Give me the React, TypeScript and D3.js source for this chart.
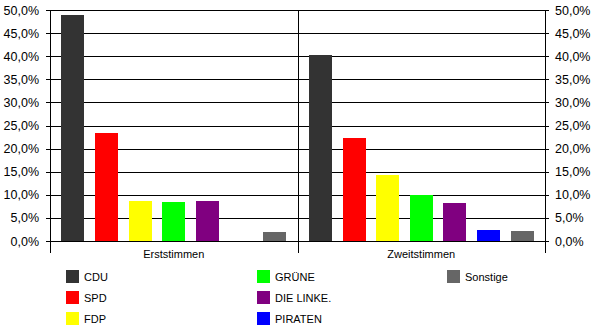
import React from "react";
import * as d3 from "d3";

const groups = ["Erststimmen", "Zweitstimmen"];
const parties = ["CDU", "SPD", "FDP", "GRÜNE", "DIE LINKE.", "PIRATEN", "Sonstige"];
const colors = ["#333333", "#ff0000", "#ffff00", "#00ff00", "#800080", "#0000ff", "#666666"];
const erststimmen = [49.0, 23.4, 8.7, 8.5, 8.7, null, 2.0];
const zweitstimmen = [40.3, 22.3, 14.3, 10.0, 8.3, 2.4, 2.2];
const seriesByGroup = [erststimmen, zweitstimmen];
const yTicks = [0, 5, 10, 15, 20, 25, 30, 35, 40, 45, 50];
const legendOrder = [
  ["CDU", "SPD", "FDP"],
  ["GRÜNE", "DIE LINKE.", "PIRATEN"],
  ["Sonstige"],
];

const W = 600;
const H = 333;
const left = 50;
const right = 545;
const top = 10;
const bottom = 241;
const font = "'Liberation Sans', Arial, sans-serif";

export default function App() {
  const y = d3.scaleLinear().domain([0, 50]).range([bottom, top]);
  const x0 = d3.scaleBand().domain(groups).range([left, right]).padding(0);
  const x1 = d3
    .scaleBand()
    .domain(parties)
    .range([0, x0.bandwidth()])
    .paddingInner(0.315)
    .paddingOuter(0.34);
  const fmt = (v: number) => d3.format(".1f")(v).replace(".", ",") + "%";

  const colX = [66, 257, 447];
  const rowY = [270, 291, 312];

  return (
    <svg
      width={W}
      height={H}
      style={{ position: "absolute", left: 0, top: 0, background: "#fff" }}
      shapeRendering="crispEdges"
    >
      {/* gridlines */}
      {yTicks.map((t) => (
        <line key={"g" + t} x1={left} x2={right} y1={Math.round(y(t)) + 0.5} y2={Math.round(y(t)) + 0.5} stroke="#000" />
      ))}
      {/* left ticks & labels */}
      {yTicks.map((t) => (
        <g key={"l" + t}>
          <line x1={left - 4} x2={left} y1={Math.round(y(t)) + 0.5} y2={Math.round(y(t)) + 0.5} stroke="#000" />
          <line x1={right} x2={right + 4} y1={Math.round(y(t)) + 0.5} y2={Math.round(y(t)) + 0.5} stroke="#000" />
          <text x={39} y={y(t) + 4.5} textAnchor="end" fontFamily={font} fontSize={12.5} fill="#000">
            {fmt(t)}
          </text>
          <text x={555} y={y(t) + 4.5} textAnchor="start" fontFamily={font} fontSize={12.5} fill="#000">
            {fmt(t)}
          </text>
        </g>
      ))}
      {/* bars */}
      {groups.map((g, gi) => (
        <g key={g} transform={`translate(${x0(g)},0)`}>
          {parties.map((p, pi) => {
            const v = seriesByGroup[gi][pi];
            if (v == null) return null;
            return (
              <rect
                key={p}
                x={x1(p)}
                y={y(v)}
                width={x1.bandwidth()}
                height={bottom - y(v)}
                fill={colors[pi]}
              />
            );
          })}
        </g>
      ))}
      {/* vertical axis lines */}
      {[left, x0("Zweitstimmen")!, right].map((vx, i) => (
        <line key={"v" + i} x1={Math.round(vx) + 0.5} x2={Math.round(vx) + 0.5} y1={top} y2={bottom + 12} stroke="#000" />
      ))}
      {/* category labels */}
      {groups.map((g) => (
        <text
          key={"c" + g}
          x={x0(g)! + x0.bandwidth() / 2}
          y={bottom + 17}
          textAnchor="middle"
          fontFamily={font}
          fontSize={11}
          fill="#000"
        >
          {g}
        </text>
      ))}
      {/* legend */}
      {legendOrder.map((col, ci) =>
        col.map((p, ri) => {
          const idx = parties.indexOf(p);
          return (
            <g key={"lg" + p} transform={`translate(${colX[ci]},${rowY[ri]})`}>
              <rect x={0} y={0} width={13} height={13} fill={colors[idx]} />
              <text x={18} y={10.5} fontFamily={font} fontSize={11} fill="#000">
                {p}
              </text>
            </g>
          );
        })
      )}
    </svg>
  );
}
